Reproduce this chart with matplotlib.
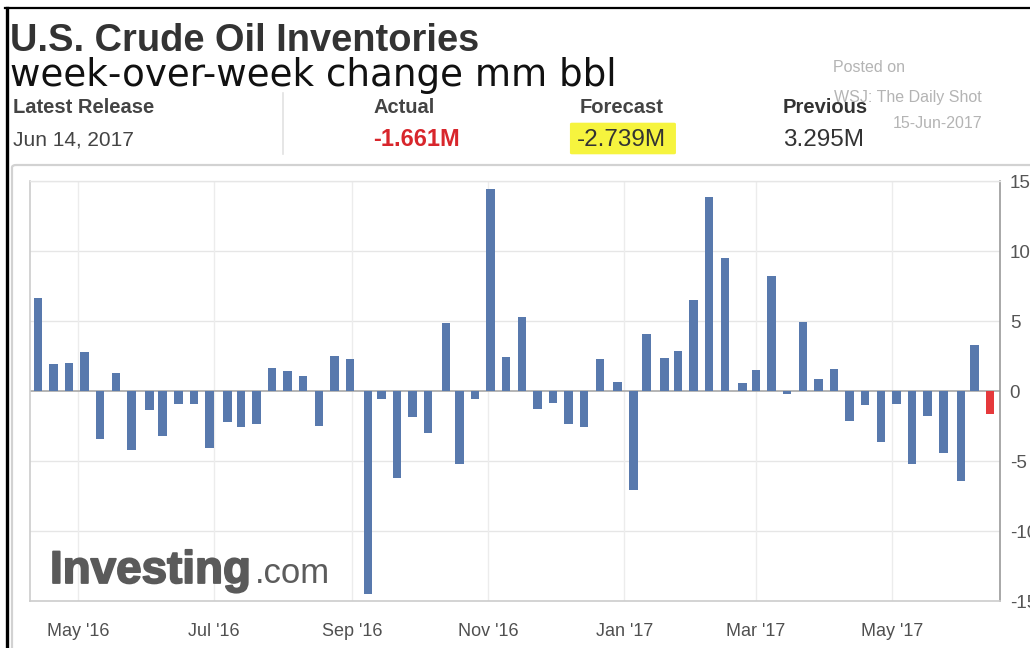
import matplotlib
matplotlib.use('Agg')
import matplotlib.pyplot as plt
import matplotlib.dates as mdates
import matplotlib.patheffects as pe
from matplotlib.patches import FancyBboxPatch
from matplotlib.lines import Line2D
import pandas as pd

plt.rcParams['axes.unicode_minus'] = False

# ---------------- data ----------------
release_dates = [
    '2016-04-13', '2016-04-20', '2016-04-27', '2016-05-04', '2016-05-11', '2016-05-18', '2016-05-25',
    '2016-06-02', '2016-06-08', '2016-06-15', '2016-06-22', '2016-06-29', '2016-07-07', '2016-07-13',
    '2016-07-20', '2016-07-27', '2016-08-03', '2016-08-10', '2016-08-17', '2016-08-24', '2016-08-31',
    '2016-09-08', '2016-09-14', '2016-09-21', '2016-09-28', '2016-10-05', '2016-10-13', '2016-10-19',
    '2016-10-26', '2016-11-02', '2016-11-09', '2016-11-16', '2016-11-23', '2016-11-30', '2016-12-07',
    '2016-12-14', '2016-12-21', '2016-12-29', '2017-01-05', '2017-01-11', '2017-01-19', '2017-01-25',
    '2017-02-01', '2017-02-08', '2017-02-15', '2017-02-23', '2017-03-01', '2017-03-08', '2017-03-15',
    '2017-03-22', '2017-03-29', '2017-04-05', '2017-04-12', '2017-04-19', '2017-04-26', '2017-05-03',
    '2017-05-10', '2017-05-17', '2017-05-24', '2017-06-01', '2017-06-07', '2017-06-14',
]
inventory_change = [
    6.634, 1.912, 1.999, 2.784, -3.410, 1.310, -4.226, -1.366, -3.225, -0.933,
    -0.917, -4.053, -2.223, -2.546, -2.342, 1.671, 1.413, 1.055, -2.508, 2.501,
    2.276, -14.513, -0.559, -6.200, -1.882, -2.976, 4.850, -5.247, -0.553, 14.420,
    2.432, 5.274, -1.255, -0.884, -2.389, -2.563, 2.256, 0.614, -7.051, 4.097,
    2.347, 2.840, 6.466, 13.830, 9.527, 0.564, 1.501, 8.209, -0.237, 4.954,
    0.867, 1.566, -2.166, -1.034, -3.641, -0.930, -5.247, -1.753, -4.432, -6.434,
    3.295, -1.661,
]
month_ticks = ['2016-05-01', '2016-07-01', '2016-09-01', '2016-11-01', '2017-01-01', '2017-03-01', '2017-05-01']
month_labels = ["May '16", "Jul '16", "Sep '16", "Nov '16", "Jan '17", "Mar '17", "May '17"]
y_ticks = [-15, -10, -5, 0, 5, 10, 15]

latest_release = 'Jun 14, 2017'
actual_value = '-1.661M'
forecast_value = '-2.739M'
previous_value = '3.295M'

# ---------------- figure ----------------
W, H = 1030, 648
fig = plt.figure(figsize=(W / 100, H / 100), dpi=100)
fig.patch.set_facecolor('white')


def fx(x):
    return x / W


def fy(y):
    return 1 - y / H


renderer = fig.canvas.get_renderer()


def fit(t, target_w):
    bb = t.get_window_extent(renderer=renderer)
    t.set_fontsize(t.get_fontsize() * target_w / bb.width)
    return t


ax = fig.add_axes([fx(30), fy(601), fx(1000) - fx(30), fy(181) - fy(601)])
ax.set_facecolor('none')

dates = pd.to_datetime(release_dates)
xnum = mdates.date2num(dates)
blue = '#5879ad'
red = '#e5393b'
colors = [red if i == len(inventory_change) - 1 else blue for i in range(len(inventory_change))]
ax.bar(xnum, inventory_change, width=3.8, color=colors, zorder=3)

ax.set_xlim(mdates.date2num(pd.Timestamp('2016-04-09 12:00')),
            mdates.date2num(pd.Timestamp('2017-06-18 10:00')))
ax.set_ylim(-15, 15)

# grid
for yv in y_ticks:
    if yv == 0:
        ax.axhline(yv, color='#a8a8a8', lw=1.2, zorder=2)
    elif yv != -15:
        ax.axhline(yv, color='#e6e6e6', lw=1.0, zorder=1)
tick_nums = mdates.date2num(pd.to_datetime(month_ticks))
for xv in tick_nums:
    ax.axvline(xv, color='#ececec', lw=1.0, zorder=1)

ax.set_xticks(tick_nums)
ax.set_xticklabels(month_labels, family='Liberation Sans')
ax.set_yticks(y_ticks)
ax.set_yticklabels([str(v) for v in y_ticks], family='Liberation Sans')
ax.yaxis.tick_right()
ax.tick_params(axis='y', length=0, pad=7, labelsize=13.5, labelcolor='#555555')
ax.tick_params(axis='x', length=0, pad=16, labelsize=13, labelcolor='#505050')

for s in ['left', 'bottom']:
    ax.spines[s].set_color('#cccccc')
    ax.spines[s].set_linewidth(1.2)
ax.spines['right'].set_color('#9a9a9a')
ax.spines['right'].set_linewidth(1.2)
ax.spines['top'].set_color('#e6e6e6')
ax.spines['top'].set_linewidth(1.0)

# watermark logo
logo = fig.text(fx(50), fy(583), 'Investing', fontsize=33, fontweight='bold',
                family='Liberation Sans', color='#5a5a5a', va='baseline', zorder=0,
                path_effects=[pe.withStroke(linewidth=1.3, foreground='#5a5a5a')])
fit(logo, 201)
bb = logo.get_window_extent(renderer=renderer)
fig.text((bb.x1 + 4) / W, fy(583), '.com', fontsize=25, family='Liberation Sans',
         color='#5c5c5c', va='baseline', zorder=0)

# ---------------- header ----------------
title = fig.text(fx(10), fy(51), 'U.S. Crude Oil Inventories', fontsize=22, fontweight='bold',
                 family='Liberation Sans', color='#333333', va='baseline')
fit(title, 468)
sub = fig.text(fx(10), fy(86), 'week-over-week change mm bbl', fontsize=20,
               family='DejaVu Sans', color='#111111', va='baseline')
fit(sub, 607)

lab_col = '#444444'
lab = dict(family='Liberation Sans', fontsize=14.5, va='baseline', fontweight='bold')
val = dict(family='Liberation Sans', fontsize=17.5, va='baseline')
fig.text(fx(13), fy(113), 'Latest Release', color=lab_col, **lab)
fig.text(fx(13), fy(145), latest_release, color=lab_col, family='Liberation Sans',
         fontsize=15, va='baseline')
fig.text(fx(374), fy(113), 'Actual', color=lab_col, **lab)
fig.text(fx(373), fy(146), actual_value, fontweight='bold', color='#d8262c',
         family='Liberation Sans', fontsize=17, va='baseline')
fig.text(fx(580), fy(113), 'Forecast', color=lab_col, **lab)
fig.text(fx(577), fy(146), forecast_value, color='#333333', **val)
fig.text(fx(783), fy(113), 'Previous', color='#333333', **lab)
fig.text(fx(783), fy(146), previous_value, color='#333333', **val)

# yellow highlight behind forecast value
fig.patches.append(FancyBboxPatch((fx(572), fy(153)), fx(678) - fx(572) - 0.004, fy(124) - fy(153),
                                  boxstyle='round,pad=0.002', transform=fig.transFigure,
                                  facecolor='#f6f43e', edgecolor='none', zorder=-1))

# posted-on watermark
wm = dict(family='Liberation Sans', fontsize=11.5, color='#b4b4b4', va='baseline')
fig.text(fx(833), fy(72), 'Posted on', **wm)
fig.text(fx(834), fy(102), 'WSJ: The Daily Shot', **wm)
fig.text(fx(893), fy(128), '15-Jun-2017', **wm)

# divider between release and values
fig.add_artist(Line2D([fx(283), fx(283)], [fy(93), fy(154)], transform=fig.transFigure,
                      color='#e2e2e2', lw=1.2))

# chart frame
fig.patches.append(FancyBboxPatch((fx(12), fy(700)), fx(1100) - fx(12), fy(165) - fy(700),
                                  boxstyle='round,pad=0,rounding_size=0.004', transform=fig.transFigure,
                                  facecolor='none', edgecolor='#d2d2d2', lw=1.6, zorder=-2))

# black screenshot border
fig.add_artist(Line2D([fx(5), fx(1030)], [fy(8), fy(8)], transform=fig.transFigure,
                      color='black', lw=1.6))
fig.add_artist(Line2D([fx(6.5), fx(6.5)], [fy(8), fy(648)], transform=fig.transFigure,
                      color='black', lw=2.4))

fig.savefig('out.png', dpi=100, facecolor='white')
